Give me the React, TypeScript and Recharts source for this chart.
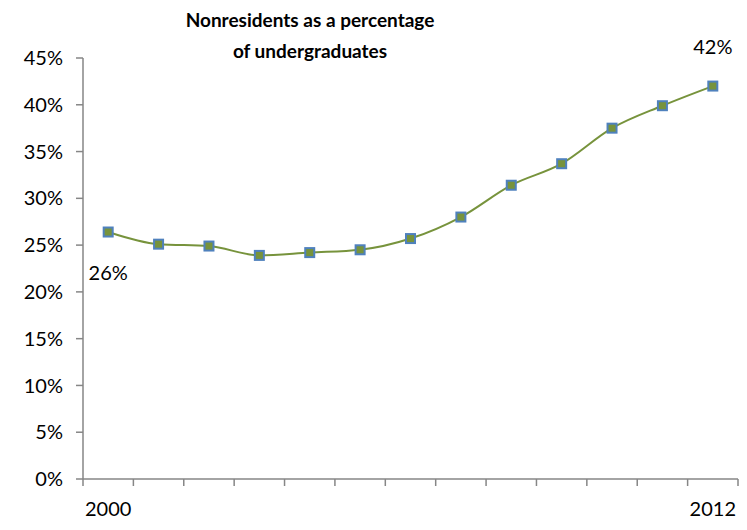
import React from "react";
import { LineChart, Line, XAxis, YAxis, LabelList } from "recharts";

// ─── Data ──────────────────────────────────────────────────────────────────

const years = ["2000", "2001", "2002", "2003", "2004", "2005", "2006", "2007", "2008", "2009", "2010", "2011", "2012"];
const nonresidentShare = [26.4, 25.1, 24.9, 23.9, 24.2, 24.5, 25.7, 28.0, 31.4, 33.7, 37.5, 39.9, 42.0];
const yTicks = [0, 5, 10, 15, 20, 25, 30, 35, 40, 45];
const titleLines = ["Nonresidents as a percentage", "of undergraduates"];

const data = years.map((year, i) => ({ year, share: nonresidentShare[i] }));

// ─── Layout ────────────────────────────────────────────────────────────────

const W = 747;
const H = 530;
const margin = { top: 58, right: 9, left: 0, bottom: 11 };
const yAxisWidth = 83;
const plotWidth = W - margin.left - margin.right - yAxisWidth;
const band = plotWidth / years.length;

const FONT = "Lato, 'Liberation Sans', sans-serif";
const LINE_GREEN = "#77933C";
const MARKER_BLUE = "#4F81BD";
const AXIS_GREY = "#868686";

function YearTick(props: any) {
  const { x, y, payload, index } = props;
  const last = index === years.length - 1;
  const showLabel = index === 0 || last;
  return (
    <g>
      <line x1={x - band / 2} x2={x - band / 2} y1={y} y2={y + 7} stroke={AXIS_GREY} strokeWidth={1.5} />
      {last && <line x1={x + band / 2} x2={x + band / 2} y1={y} y2={y + 7} stroke={AXIS_GREY} strokeWidth={1.5} />}
      {showLabel && (
        <text x={x} y={y + 37} textAnchor="middle" fontSize={20} fontFamily={FONT} fill="#000">
          {payload.value}
        </text>
      )}
    </g>
  );
}

function SquareDot(props: any) {
  const { cx, cy } = props;
  if (cx == null || cy == null) return null;
  return <rect x={cx - 4.5} y={cy - 4.5} width={9} height={9} fill={LINE_GREEN} stroke={MARKER_BLUE} strokeWidth={2} />;
}

function EndLabel(props: any) {
  const { x, y, value, index } = props;
  if (index === 0) {
    return (
      <text x={x} y={y + 48} textAnchor="middle" fontSize={20} fontFamily={FONT} fill="#000">
        {Math.round(value)}%
      </text>
    );
  }
  if (index === years.length - 1) {
    return (
      <text x={x} y={y - 32} textAnchor="middle" fontSize={20} fontFamily={FONT} fill="#000">
        {Math.round(value)}%
      </text>
    );
  }
  return null;
}

export default function App() {
  return (
    <div style={{ position: "absolute", left: 0, top: 0, width: W, height: H, background: "#fff", fontFamily: FONT }}>
      <div
        style={{
          position: "absolute",
          left: 160,
          width: 300,
          top: 4,
          textAlign: "center",
          fontWeight: 700,
          fontSize: 19,
          lineHeight: "31px",
          color: "#000",
        }}
      >
        {titleLines.map((t) => (
          <div key={t}>{t}</div>
        ))}
      </div>
      <LineChart width={W} height={H} data={data} margin={margin}>
        <XAxis
          dataKey="year"
          type="category"
          interval={0}
          padding={{ left: band / 2, right: band / 2 }}
          tickSize={0}
          tickMargin={0}
          tickLine={false}
          axisLine={{ stroke: AXIS_GREY, strokeWidth: 1.5 }}
          tick={<YearTick />}
          height={40}
        />
        <YAxis
          width={yAxisWidth}
          domain={[0, 45]}
          ticks={yTicks}
          interval={0}
          tickFormatter={(v) => `${v}%`}
          tickSize={7}
          tickMargin={13}
          axisLine={{ stroke: AXIS_GREY, strokeWidth: 1.5 }}
          tickLine={{ stroke: AXIS_GREY, strokeWidth: 1.5 }}
          tick={{ fontSize: 20, fontFamily: FONT, fill: "#000" }}
        />
        <Line
          type="monotone"
          dataKey="share"
          stroke={LINE_GREEN}
          strokeWidth={2}
          dot={<SquareDot />}
          activeDot={false}
          isAnimationActive={false}
        >
          <LabelList dataKey="share" content={<EndLabel />} />
        </Line>
      </LineChart>
    </div>
  );
}
